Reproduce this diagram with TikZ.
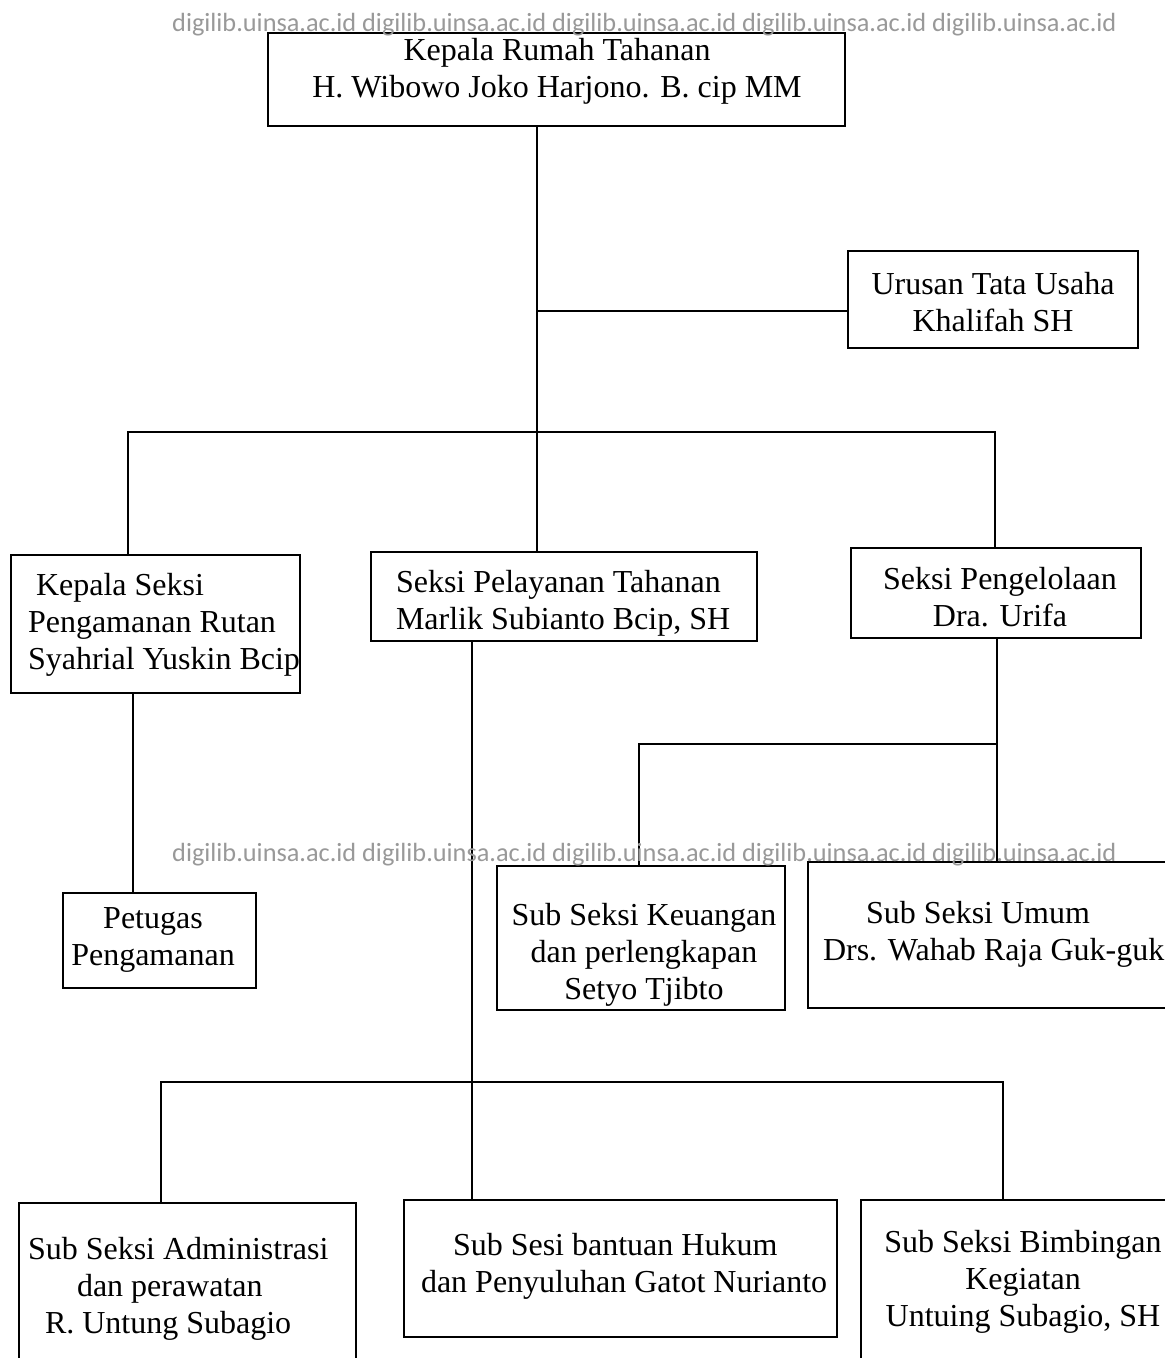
\documentclass[tikz,border=0pt]{standalone}
\usepackage{fontspec}
\setmainfont{Liberation Serif}
\newfontfamily\wmfont{Carlito}
\newcommand\firstln{\rule{0pt}{25pt}}
\begin{document}
\begin{tikzpicture}[x=1pt,y=-1pt,
  box/.style={draw=black, line width=2.2pt, inner sep=0pt, outer sep=0pt, anchor=north west},
  txt/.style={font=\fontsize{32}{37}\selectfont, inner sep=0pt, outer sep=0pt},
  ctxt/.style={txt, align=center, anchor=north},
  ltxt/.style={txt, align=left, anchor=north west},
  conn/.style={line width=1.8pt, line cap=rect},
  wm/.style={font=\wmfont\fontsize{26.3}{30}\selectfont, text=black!40, inner sep=0pt, anchor=base west}]
\useasboundingbox (0,0) rectangle (1165,1358);
\fill[white] (0,0) rectangle (1165,1358);
\clip (0,0) rectangle (1165,1358);

% boxes
\node[box, minimum width=577pt, minimum height=93pt] (top) at (268,33) {};
\node[box, minimum width=290pt, minimum height=97pt] (urusan) at (848,251) {};
\node[box, minimum width=289pt, minimum height=138pt] (kss) at (11,555) {};
\node[box, minimum width=386pt, minimum height=89pt] (spt) at (371,552) {};
\node[box, minimum width=290pt, minimum height=90pt] (spg) at (851,548) {};
\node[box, minimum width=193pt, minimum height=95pt] (pet) at (63,893) {};
\node[box, minimum width=288pt, minimum height=144pt] (keu) at (497,866) {};
\node[box, minimum width=380pt, minimum height=146pt] (umum) at (808,862) {};
\node[box, minimum width=337pt, minimum height=180pt] (adm) at (19,1203) {};
\node[box, minimum width=433pt, minimum height=137pt] (huk) at (404,1200) {};
\node[box, minimum width=330pt, minimum height=180pt] (bim) at (861,1200) {};

% texts
\node[ctxt] (topt) at (557,35) {\firstln Kepala Rumah Tahanan\\H. Wibowo Joko Harjono. B. cip MM};
\node[ctxt] (urut) at (993,269) {\firstln Urusan Tata Usaha\\Khalifah SH};
\node[ltxt] (ksst) at (28,570) {\firstln\hspace*{8pt}Kepala Seksi\\Pengamanan Rutan\\Syahrial Yuskin Bcip};
\node[ltxt] (sptt) at (396,567) {\firstln Seksi Pelayanan Tahanan\\Marlik Subianto Bcip, SH};
\node[ctxt] (spgt) at (1000,564) {\firstln Seksi Pengelolaan\\Dra. Urifa};
\node[ctxt] (pett) at (153,903) {\firstln Petugas\\Pengamanan};
\node[ctxt] (keut) at (644,900) {\firstln Sub Seksi Keuangan\\dan perlengkapan\\Setyo Tjibto};
\node[ltxt] (umumt) at (823,898) {\firstln\hspace*{43pt}Sub Seksi Umum\\Drs. Wahab Raja Guk-guk};
\node[ltxt] (admt) at (28,1234) {\firstln Sub Seksi Administrasi\\\hspace*{49pt}dan perawatan\\\hspace*{17pt}R. Untung Subagio};
\node[ltxt] (hukt) at (421,1230) {\firstln\hspace*{32pt}Sub Sesi bantuan Hukum\\dan Penyuluhan Gatot Nurianto};
\node[ctxt] (bimt) at (1023,1227) {\firstln Sub Seksi Bimbingan\\Kegiatan\\Untuing Subagio, SH};

% junction points
\coordinate (j1) at (537,311);
\coordinate (b1l) at (128,432);
\coordinate (b1r) at (995,432);
\coordinate (c1) at (133,800);
\coordinate (c2) at (997,744);
\coordinate (c3) at (639,744);
\coordinate (c4) at (472,1082);
\coordinate (c5) at (161,1082);
\coordinate (c6) at (1003,1082);

% connectors
\draw[conn] (top.south -| j1) -- (spt.north -| j1);
\draw[conn] (j1) -- (j1 -| urusan.west);
\draw[conn] (kss.north -| b1l) -- (b1l) -- (b1r) -- (spg.north -| b1r);
\draw[conn] (kss.south -| c1) -- (pet.north -| c1);
\draw[conn] (spg.south -| c2) -- (umum.north -| c2);
\draw[conn] (c2) -- (c3) -- (keu.north -| c3);
\draw[conn] (spt.south -| c4) -- (huk.north -| c4);
\draw[conn] (adm.north -| c5) -- (c5) -- (c6) -- (bim.north -| c6);

% watermark
\node[wm] (wm1) at (172,31) {digilib.uinsa.ac.id digilib.uinsa.ac.id digilib.uinsa.ac.id digilib.uinsa.ac.id digilib.uinsa.ac.id};
\node[wm] (wm2) at (172,861) {digilib.uinsa.ac.id digilib.uinsa.ac.id digilib.uinsa.ac.id digilib.uinsa.ac.id digilib.uinsa.ac.id};
\end{tikzpicture}
\end{document}
